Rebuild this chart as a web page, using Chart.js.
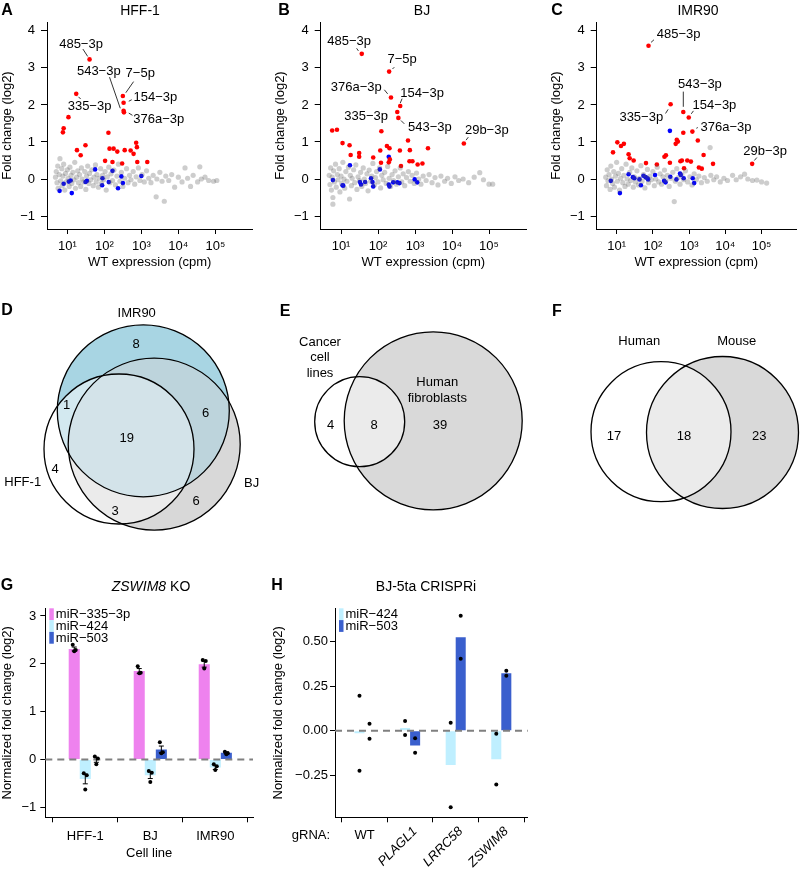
<!DOCTYPE html>
<html>
<head>
<meta charset="utf-8">
<title>miRNA fold change figure</title>
<script src="https://cdn.jsdelivr.net/npm/chart.js@4.4.1/dist/chart.umd.min.js"></script>
<style>
  body { margin: 0; background: #fff; font-family: "Liberation Sans", Arial, Helvetica, sans-serif; color: #000; }
  #page { position: relative; width: 800px; height: 871px; overflow: hidden; }
  canvas { position: absolute; }
  .t { position: absolute; transform: translate(-50%, -50%); white-space: nowrap; line-height: 1; font-size: 14px; }
  .let { font-weight: bold; font-size: 16px; }
</style>
</head>
<body>
<div id="page">
  <canvas id="cA" width="265" height="280" style="left:0;top:0"></canvas>
  <canvas id="cB" width="265" height="280" style="left:265px;top:0"></canvas>
  <canvas id="cC" width="270" height="280" style="left:530px;top:0"></canvas>
  <canvas id="cD" width="265" height="260" style="left:0;top:290px"></canvas>
  <canvas id="cE" width="265" height="260" style="left:265px;top:290px"></canvas>
  <canvas id="cF" width="270" height="260" style="left:530px;top:290px"></canvas>
  <canvas id="cG" width="265" height="296" style="left:0;top:575px"></canvas>
  <canvas id="cH" width="270" height="296" style="left:265px;top:575px"></canvas>

  <div class="t let" style="left:7px;top:10px">A</div>
  <div class="t let" style="left:284px;top:10px">B</div>
  <div class="t let" style="left:557px;top:10px">C</div>
  <div class="t let" style="left:7px;top:310px">D</div>
  <div class="t let" style="left:285px;top:311px">E</div>
  <div class="t let" style="left:557px;top:311px">F</div>
  <div class="t let" style="left:7px;top:585px">G</div>
  <div class="t let" style="left:277px;top:585px">H</div>

  <div class="t" style="left:140px;top:10px">HFF-1</div>
  <div class="t" style="left:422px;top:10px">BJ</div>
  <div class="t" style="left:698px;top:10px">IMR90</div>
  <div class="t" style="left:151px;top:586px"><i>ZSWIM8</i> KO</div>
  <div class="t" style="left:426px;top:586px">BJ-5ta CRISPRi</div>
</div>

<script>
/* ---------- data ---------- */

// x values are log10(cpm), y values are log2 fold change
const cpmTicks = [1, 2, 3, 4, 5];
const foldTicks = [-1, 0, 1, 2, 3, 4];

const hffGray = [
  [0.68,0.05],[0.70,0.20],[0.72,-0.10],[0.74,0.35],[0.75,-0.25],[0.78,0.12],[0.80,0.55],[0.82,-0.05],
  [0.85,0.28],[0.86,-0.18],[0.88,0.08],[0.90,0.40],[0.93,-0.30],[0.95,0.15],[0.97,-0.08],[1.00,0.25],
  [1.02,0.02],[1.05,-0.20],[1.07,0.32],[1.10,0.10],[1.12,-0.12],[1.15,0.18],[1.18,-0.02],[1.20,0.45],
  [1.22,-0.25],[1.25,0.05],[1.28,0.22],[1.30,-0.10],[1.33,0.12],[1.36,-0.20],[1.38,0.30],[1.40,0.00],
  [1.44,-0.08],[1.47,0.20],[1.50,-0.28],[1.52,0.08],[1.55,0.35],[1.58,-0.12],[1.60,0.15],[1.63,-0.02],
  [1.66,0.25],[1.70,-0.18],[1.72,0.05],[1.76,0.38],[1.78,-0.08],[1.80,0.12],[1.84,-0.22],[1.86,0.02],
  [1.90,0.28],[1.92,-0.12],[1.95,0.10],[1.98,-0.02],[2.02,0.20],[2.05,-0.30],[2.08,0.06],[2.12,0.32],
  [2.15,-0.10],[2.18,0.14],[2.22,-0.04],[2.26,0.24],[2.30,-0.16],[2.34,0.08],[2.38,0.40],[2.42,-0.06],
  [2.46,0.18],[2.50,-0.20],[2.55,0.02],[2.60,0.28],[2.64,-0.10],[2.68,0.10],[2.72,-0.02],[2.78,0.20],
  [2.82,-0.14],[2.86,0.06],[2.92,0.30],[2.96,-0.04],[3.02,0.12],[3.08,-0.08],[3.14,0.22],[3.20,0.02],
  [3.26,-0.10],[3.32,0.10],[3.40,-0.48],[3.42,0.00],[3.50,0.18],[3.56,-0.06],[3.62,-0.60],[3.66,0.08],
  [3.74,-0.04],[3.82,0.12],[3.90,-0.22],[4.00,0.05],[4.10,-0.08],[4.18,0.30],[4.25,0.02],[4.33,-0.20],
  [4.40,0.10],[4.52,-0.08],[4.58,0.33],[4.62,0.00],[4.72,0.05],[4.82,-0.04],[4.95,-0.06],[5.04,-0.04]
];
const hffUp = [
  [1.60,3.23],[2.50,2.24],[2.52,2.06],[2.52,1.84],[2.53,1.80],[1.24,2.30],[1.03,1.67],[0.90,1.37],
  [0.88,1.26],[2.11,1.25],[1.26,0.78],[1.36,0.64],[1.49,0.91],[2.14,0.82],[2.25,0.82],[2.35,0.74],
  [2.55,0.78],[2.71,0.77],[2.79,0.68],[2.86,0.98],[2.88,0.86],[2.02,0.49],[2.22,0.46],[2.48,0.42],
  [2.89,0.46],[3.16,0.46]
];
const hffDown = [
  [0.79,-0.32],[0.90,-0.13],[1.04,-0.07],[1.09,-0.04],[1.12,-0.38],[1.49,-0.08],[1.53,-0.05],[1.75,0.26],
  [1.95,0.02],[1.94,-0.17],[2.12,-0.08],[2.22,0.22],[2.37,-0.25],[2.46,0.07],[2.50,-0.11],[3.00,0.08]
];
// [label, text x, text y, leader x1, y1, x2, y2]
const hffNotes = [
  ['485\u22123p', 1.37, 3.64, 1.42, 3.51, 1.55, 3.31],
  ['543\u22123p', 1.85, 2.90, 2.14, 2.75, 2.43, 1.91],
  ['7\u22125p', 2.97, 2.84, 2.79, 2.63, 2.58, 2.33],
  ['154\u22123p', 3.38, 2.21, 2.74, 2.14, 2.66, 2.10],
  ['335\u22123p', 1.60, 1.97, 1.30, 2.22, 1.36, 2.16],
  ['376a\u22123p', 3.47, 1.62, 2.66, 1.78, 2.76, 1.72]
];

const bjGray = [
  [0.68,0.10],[0.70,-0.15],[0.72,0.30],[0.74,-0.30],[0.76,0.05],[0.78,-0.50],[0.78,-0.68],[0.80,0.22],
  [0.82,-0.08],[0.85,0.40],[0.87,-0.22],[0.90,0.12],[0.92,-0.02],[0.95,0.28],[0.97,-0.35],[1.00,0.08],
  [1.02,-0.12],[1.05,0.45],[1.08,0.00],[1.10,-0.25],[1.13,0.20],[1.16,-0.06],[1.20,0.32],[1.23,-0.54],
  [1.25,0.10],[1.28,-0.18],[1.30,0.02],[1.34,0.25],[1.37,-0.10],[1.40,0.38],[1.43,-0.28],[1.46,0.06],
  [1.50,-0.04],[1.53,0.18],[1.56,-0.20],[1.60,0.30],[1.63,0.00],[1.66,-0.12],[1.70,0.14],[1.73,-0.32],
  [1.76,0.24],[1.80,-0.06],[1.83,0.08],[1.86,0.42],[1.90,-0.16],[1.93,0.04],[1.96,0.20],[2.00,-0.08],
  [2.04,0.30],[2.07,-0.24],[2.10,0.10],[2.14,-0.02],[2.18,0.18],[2.22,-0.12],[2.26,0.34],[2.30,0.02],
  [2.34,-0.20],[2.38,0.12],[2.42,-0.04],[2.46,0.22],[2.50,-0.14],[2.55,0.06],[2.60,0.30],[2.64,-0.08],
  [2.68,0.14],[2.72,-0.18],[2.77,0.04],[2.82,0.20],[2.87,-0.06],[2.92,0.10],[2.98,-0.12],[3.04,0.16],
  [3.10,0.00],[3.16,-0.14],[3.22,0.08],[3.30,-0.04],[3.38,0.12],[3.46,-0.10],[3.54,0.04],[3.62,-0.16],
  [3.70,0.08],[3.80,-0.06],[3.88,0.02],[3.98,-0.12],[4.08,0.06],[4.18,-0.04],[4.30,0.00],[4.45,-0.10],
  [4.60,0.05],[4.75,0.17],[4.85,-0.02],[5.00,-0.14],[5.10,-0.14]
];
const bjUp = [
  [1.56,3.38],[2.30,2.90],[2.35,2.20],[2.60,1.97],[2.52,1.81],[2.55,1.65],[0.76,1.31],[0.89,1.33],
  [1.04,0.97],[1.23,0.91],[1.26,0.65],[1.49,0.70],[1.49,0.60],[1.87,0.58],[2.09,1.29],[2.06,0.77],
  [2.08,0.44],[2.24,0.89],[2.31,0.83],[2.29,0.45],[2.32,0.53],[2.59,0.77],[2.62,0.35],[2.81,1.04],
  [2.86,0.78],[2.85,0.48],[2.93,0.48],[3.07,0.39],[3.20,0.42],[3.35,0.83],[4.32,0.96]
];
const bjDown = [
  [0.78,-0.03],[1.04,-0.17],[1.06,-0.18],[1.24,0.37],[1.51,-0.08],[1.54,-0.15],[1.65,-0.08],[1.81,0.02],
  [1.85,-0.08],[1.87,-0.20],[2.05,0.26],[2.29,0.60],[2.29,-0.15],[2.31,-0.20],[2.41,-0.09],[2.52,-0.09],
  [2.58,-0.11],[2.99,-0.01],[3.06,-0.09]
];
const bjNotes = [
  ['485\u22123p', 1.22, 3.71, 1.42, 3.53, 1.47, 3.46],
  ['7\u22125p', 2.65, 3.22, 2.44, 3.02, 2.39, 2.97],
  ['376a\u22123p', 1.41, 2.48, 2.17, 2.41, 2.26, 2.30],
  ['154\u22123p', 3.19, 2.32, 2.65, 2.17, 2.60, 2.05],
  ['335\u22123p', 1.68, 1.68, 2.21, 1.70, 2.25, 1.73],
  ['543\u22123p', 3.40, 1.39, 2.62, 1.58, 2.71, 1.49],
  ['29b\u22123p', 4.94, 1.32, 4.44, 1.13, 4.38, 1.05]
];

const imrGray = [
  [0.70,0.05],[0.72,-0.18],[0.74,0.25],[0.76,-0.05],[0.79,0.12],[0.82,-0.28],[0.84,0.35],[0.86,0.00],
  [0.89,-0.12],[0.92,0.20],[0.94,-0.22],[0.97,0.08],[1.00,0.45],[1.02,-0.06],[1.05,0.15],[1.08,-0.30],
  [1.11,0.02],[1.14,0.28],[1.17,-0.10],[1.20,0.10],[1.23,-0.20],[1.26,0.40],[1.29,0.00],[1.32,-0.14],
  [1.36,0.18],[1.39,-0.04],[1.42,0.30],[1.46,-0.22],[1.49,0.06],[1.52,-0.08],[1.56,0.22],[1.60,-0.16],
  [1.63,0.02],[1.67,0.36],[1.70,-0.06],[1.74,0.12],[1.78,-0.24],[1.81,0.04],[1.85,0.26],[1.88,-0.10],
  [1.92,0.08],[1.96,-0.02],[2.00,0.20],[2.04,-0.18],[2.08,0.00],[2.12,0.32],[2.16,-0.08],[2.20,0.14],
  [2.24,-0.14],[2.28,0.06],[2.32,0.24],[2.36,-0.04],[2.40,0.10],[2.45,-0.20],[2.50,0.02],[2.55,0.18],
  [2.59,-0.61],[2.62,-0.06],[2.66,0.28],[2.70,0.04],[2.75,-0.14],[2.80,0.12],[2.85,-0.02],[2.90,0.22],
  [2.96,-0.08],[3.02,0.06],[3.08,-0.16],[3.14,0.14],[3.20,-0.02],[3.27,0.08],[3.34,-0.10],[3.42,0.04],
  [3.50,-0.06],[3.58,0.85],[3.60,0.10],[3.68,-0.02],[3.76,0.06],[3.86,-0.08],[3.96,0.02],[4.06,-0.04],
  [4.20,0.10],[4.30,-0.02],[4.42,0.06],[4.53,0.13],[4.62,0.00],[4.75,-0.04],[4.87,-0.03],[5.00,-0.08],
  [5.14,-0.11]
];
const imrUp = [
  [1.88,3.60],[2.49,2.02],[2.84,1.81],[2.99,1.66],[2.84,1.25],[3.09,1.28],[0.90,0.72],[1.02,0.99],
  [1.12,0.89],[1.20,0.95],[1.33,0.67],[1.36,0.56],[1.47,0.50],[1.81,0.43],[2.11,0.39],[2.32,0.60],
  [2.36,0.64],[2.47,0.44],[2.66,1.06],[2.69,1.01],[2.63,0.95],[2.76,0.48],[2.80,0.50],[2.86,0.29],
  [2.95,0.50],[3.05,0.47],[3.24,1.04],[3.27,0.31],[3.35,0.28],[3.40,0.65],[3.66,0.41],[4.74,0.41]
];
const imrDown = [
  [2.47,1.30],[0.84,-0.05],[1.09,-0.38],[1.33,0.13],[1.45,0.05],[1.49,0.02],[1.63,-0.01],[1.67,-0.17],
  [1.74,0.09],[1.80,0.05],[1.85,0.02],[1.87,-0.01],[2.06,0.11],[2.31,-0.05],[2.35,-0.09],[2.48,0.06],
  [2.65,-0.01],[2.75,0.15],[2.77,0.11],[2.85,0.02],[3.10,0.02],[3.14,-0.11]
];
const imrNotes = [
  ['485\u22123p', 2.71, 3.91, 2.03, 3.76, 1.95, 3.69],
  ['543\u22123p', 3.30, 2.56, 2.84, 2.36, 2.84, 1.95],
  ['154\u22123p', 3.70, 1.99, 3.12, 1.84, 3.06, 1.76],
  ['335\u22123p', 1.68, 1.67, 2.35, 1.77, 2.42, 1.88],
  ['376a\u22123p', 4.02, 1.39, 3.20, 1.37, 3.24, 1.39],
  ['29b\u22123p', 5.10, 0.74, 4.87, 0.58, 4.80, 0.50]
];

// Venn counts
const dSets = ['IMR90', 'BJ', 'HFF-1'];
const dCounts = [8, 1, 6, 19, 4, 3, 6];
const eSets = ['Cancer\ncell\nlines', 'Human\nfibroblasts'];
const eCounts = [4, 8, 39];
const fSets = ['Human', 'Mouse'];
const fCounts = [17, 18, 23];

// G: ZSWIM8 KO
const gCells = ['HFF-1', 'BJ', 'IMR90'];
const gTicks = [-1, 0, 1, 2, 3];
const g335 = [2.31, 1.85, 1.99];
const g424 = [-0.41, -0.33, -0.17];
const g503 = [-0.01, 0.21, 0.14];
const g335Err = [0.04, 0.05, 0.06];
const g424Err = [0.10, 0.07, 0.04];
const g503Err = [0.05, 0.07, 0.02];
const g335Reps = [[2.40, 2.29, 2.26], [1.95, 1.81, 1.80], [2.08, 2.06, 1.90]];
const g424Reps = [[-0.29, -0.33, -0.63], [-0.24, -0.28, -0.47], [-0.10, -0.14, -0.22]];
const g503Reps = [[0.06, 0.02, -0.10], [0.36, 0.15, 0.13], [0.16, 0.13, 0.11]];

// H: BJ-5ta CRISPRi
const hGuides = ['WT', 'PLAGL1', 'LRRC58', 'ZSWIM8'];
const hTicks = [-0.25, 0, 0.25, 0.5];
const h424 = [-0.014, 0.015, -0.193, -0.160];
const h503 = [-0.003, -0.083, 0.525, 0.323];
const h424Reps = [[0.197, -0.225], [0.054, -0.024], [0.045, -0.431], [-0.017, -0.303]];
const h503Reps = [[0.039, -0.045], [-0.043, -0.124], [0.646, 0.404], [0.337, 0.309]];


/* ---------- setup ---------- */

const FONT = '"Liberation Sans", Arial, Helvetica, sans-serif';
Chart.defaults.font.family = FONT;
Chart.defaults.font.size = 13;
Chart.defaults.color = '#000';
Chart.defaults.animation = false;
Chart.defaults.responsive = false;
Chart.defaults.plugins.legend.display = false;
Chart.defaults.plugins.tooltip.enabled = false;

const SUP = { 1: '\u00b9', 2: '\u00b2', 3: '\u00b3', 4: '\u2074', 5: '\u2075' };
const minus = v => (v < 0 ? '\u2212' + String(-v) : String(v));
const minus2 = v => (v < 0 ? '\u2212' + (-v).toFixed(2) : v.toFixed(2));

function axisLines(tick) {
  return {
    grid: { drawOnChartArea: false, drawTicks: true, tickLength: tick, color: '#000', lineWidth: 1 },
    border: { display: true, color: '#000', width: 1 }
  };
}


/* labels with leader lines on the scatter panels */
function notesPlugin(items) {
  return {
    id: 'notes',
    afterDatasetsDraw(chart) {
      const { ctx, scales: { x, y } } = chart;
      ctx.save();
      ctx.font = '13px ' + FONT;
      ctx.fillStyle = '#000';
      ctx.strokeStyle = '#000';
      ctx.lineWidth = 0.8;
      ctx.textAlign = 'center';
      ctx.textBaseline = 'middle';
      items.forEach(([t, tx, ty, x1, y1, x2, y2]) => {
        ctx.fillText(t, x.getPixelForValue(tx), y.getPixelForValue(ty));
        ctx.beginPath();
        ctx.moveTo(x.getPixelForValue(x1), y.getPixelForValue(y1));
        ctx.lineTo(x.getPixelForValue(x2), y.getPixelForValue(y2));
        ctx.stroke();
      });
      ctx.restore();
    }
  };
}


/* scatter panels A-C */
function scatterPanel(id, gray, up, down, notes, axisX, xMax) {
  const cv = document.getElementById(id);
  const padLeft = Math.max(0, axisX - 48);
  const areaW = (xMax - 0.45) * 37;

  new Chart(cv, {
    type: 'scatter',
    data: {
      datasets: [
        { data: gray, backgroundColor: 'rgba(90,90,90,0.3)', pointRadius: 2.6, borderWidth: 0 },
        { data: up, backgroundColor: '#ff0000', pointRadius: 2.3, borderWidth: 0 },
        { data: down, backgroundColor: '#0000ff', pointRadius: 2.3, borderWidth: 0 }
      ]
    },
    options: {
      layout: { padding: { left: padLeft, top: 22, right: Math.max(0, cv.width - axisX - areaW), bottom: 0 } },
      scales: {
        x: {
          type: 'linear', min: 0.45, max: xMax, ...axisLines(5),
          afterBuildTicks: s => { s.ticks = cpmTicks.map(v => ({ value: v })); },
          afterFit: s => { s.height = cv.height - 229; },
          ticks: { padding: 5, maxRotation: 0, callback: v => '10' + SUP[v] },
          title: { display: true, text: 'WT expression (cpm)', padding: { top: 0, bottom: 10 } }
        },
        y: {
          type: 'linear', min: -1.35, max: 4.24, ...axisLines(6),
          afterBuildTicks: s => { s.ticks = foldTicks.map(v => ({ value: v })); },
          afterFit: s => { s.width = axisX - padLeft; },
          ticks: { padding: 6, callback: minus },
          title: { display: true, text: 'Fold change (log2)', padding: { top: 0, bottom: 0 } }
        }
      }
    },
    plugins: [notesPlugin(notes)]
  });
}


/* venn panels D-F */
function vennPlugin(v) {
  return {
    id: 'venn',
    afterDraw(chart) {
      const { ctx, scales: { x, y } } = chart;
      const path = c => {
        ctx.beginPath();
        ctx.arc(x.getPixelForValue(c.x), y.getPixelForValue(c.y),
          x.getPixelForValue(c.r) - x.getPixelForValue(0), 0, 2 * Math.PI);
      };

      v.fills.forEach(([sets, color]) => {
        ctx.save();
        sets.slice(1).forEach(i => { path(v.circles[i]); ctx.clip(); });
        path(v.circles[sets[0]]);
        ctx.fillStyle = color;
        ctx.fill();
        ctx.restore();
      });

      ctx.save();
      ctx.strokeStyle = '#000';
      ctx.lineWidth = 1.3;
      v.circles.forEach(c => { path(c); ctx.stroke(); });

      ctx.fillStyle = '#000';
      ctx.font = '13px ' + FONT;
      ctx.textAlign = 'center';
      ctx.textBaseline = 'middle';
      v.counts.forEach((n, i) => {
        ctx.fillText(String(n), x.getPixelForValue(v.countAt[i][0]), y.getPixelForValue(v.countAt[i][1]));
      });
      v.names.forEach((name, i) => {
        const lines = name.split('\n');
        lines.forEach((ln, k) => {
          ctx.fillText(ln, x.getPixelForValue(v.nameAt[i][0]),
            y.getPixelForValue(v.nameAt[i][1]) + (k - (lines.length - 1) / 2) * 15.5);
        });
      });
      ctx.restore();
    }
  };
}

function vennPanel(id, v) {
  const cv = document.getElementById(id);
  new Chart(cv, {
    type: 'scatter',
    data: { datasets: [{ data: [] }] },
    options: {
      layout: { padding: 0 },
      scales: {
        x: { type: 'linear', display: false, min: 0, max: cv.width },
        y: { type: 'linear', display: false, min: 0, max: cv.height, reverse: true }
      }
    },
    plugins: [vennPlugin(v)]
  });
}


/* bar panels G-H */
function barExtras(cfg) {
  return {
    id: 'barExtras',
    afterDatasetsDraw(chart) {
      const { ctx, chartArea: a, scales: { x, y } } = chart;
      ctx.save();

      const y0 = y.getPixelForValue(0);
      ctx.strokeStyle = '#808080';
      ctx.lineWidth = 2;
      ctx.setLineDash([7, 5]);
      ctx.beginPath();
      ctx.moveTo(a.left, y0);
      ctx.lineTo(a.right, y0);
      ctx.stroke();
      ctx.setLineDash([]);

      ctx.strokeStyle = '#000';
      ctx.fillStyle = '#000';
      ctx.lineWidth = 1;
      cfg.series.forEach((s, d) => {
        chart.getDatasetMeta(d).data.forEach((bar, i) => {
          if (s.err) {
            const lo = y.getPixelForValue(s.values[i] - s.err[i]);
            const hi = y.getPixelForValue(s.values[i] + s.err[i]);
            ctx.beginPath();
            ctx.moveTo(bar.x, lo); ctx.lineTo(bar.x, hi);
            ctx.moveTo(bar.x - 2.5, lo); ctx.lineTo(bar.x + 2.5, lo);
            ctx.moveTo(bar.x - 2.5, hi); ctx.lineTo(bar.x + 2.5, hi);
            ctx.stroke();
          }
          s.reps[i].forEach((v, k) => {
            ctx.beginPath();
            ctx.arc(bar.x + cfg.jitter[k], y.getPixelForValue(v), 2, 0, 2 * Math.PI);
            ctx.fill();
          });
        });
      });

      // legend
      ctx.font = '13px ' + FONT;
      ctx.textAlign = 'left';
      ctx.textBaseline = 'middle';
      cfg.series.forEach((s, d) => {
        const top = a.top + d * 11.8;
        ctx.fillStyle = s.color;
        ctx.fillRect(a.left + 4, top, 4.5, 11.8);
        ctx.fillStyle = '#000';
        ctx.fillText(s.label, a.left + 10.5, top + 6.2);
      });

      if (cfg.guideLabels) cfg.guideLabels(ctx, x, a);
      ctx.restore();
    }
  };
}

function barPanel(id, cfg) {
  const cv = document.getElementById(id);
  new Chart(cv, {
    type: 'bar',
    data: {
      datasets: cfg.series.map(s => ({
        label: s.label,
        data: s.values.map((v, i) => ({ x: i + 1, y: v })),
        backgroundColor: s.color,
        borderWidth: 0,
        categoryPercentage: cfg.groupShare,
        barPercentage: 1
      }))
    },
    options: {
      layout: { padding: { left: cfg.padLeft, right: cfg.padRight, top: 33.3, bottom: 0 } },
      scales: {
        x: {
          type: 'linear', offset: false, min: cfg.xMin, max: cfg.xMax, ...axisLines(5),
          afterBuildTicks: s => { s.ticks = cfg.names.map((n, i) => ({ value: i + 1 })); },
          afterFit: s => { s.height = cv.height - 242.3; },
          ticks: { padding: 6, maxRotation: 0, autoSkip: false, callback: cfg.xLabel },
          title: cfg.xTitle
        },
        y: {
          type: 'linear', min: cfg.yMin, max: cfg.yMax, ...axisLines(5),
          afterBuildTicks: s => { s.ticks = cfg.yTicks.map(v => ({ value: v })); },
          afterFit: s => { s.width = cfg.axisX - cfg.padLeft; },
          ticks: { padding: cfg.yPad, callback: cfg.yFmt },
          title: { display: true, text: 'Normalized fold change (log2)', padding: { top: 0, bottom: 0 } }
        }
      }
    },
    plugins: [barExtras(cfg)]
  });
}

function drawGuides(ctx, x, a) {
  const yTxt = a.bottom + 18;
  ctx.fillStyle = '#000';
  ctx.textBaseline = 'middle';
  ctx.font = '13px ' + FONT;
  ctx.textAlign = 'center';
  ctx.fillText('gRNA:', a.left - 24, yTxt);
  hGuides.forEach((g, i) => {
    const px = x.getPixelForValue(i + 1);
    if (i === 0) {
      ctx.fillText(g, px, yTxt);
      return;
    }
    ctx.save();
    ctx.translate(px + 5, a.bottom + 12);
    ctx.rotate(-Math.PI / 4);
    ctx.font = 'italic 13px ' + FONT;
    ctx.textAlign = 'right';
    ctx.fillText(g, 0, 0);
    ctx.restore();
  });
}


/* ---------- draw ---------- */

scatterPanel('cA', hffGray, hffUp, hffDown, hffNotes, 47, 6.0);
scatterPanel('cB', bjGray, bjUp, bjDown, bjNotes, 55.7, 6.0);
scatterPanel('cC', imrGray, imrUp, imrDown, imrNotes, 66.7, 5.95);

vennPanel('cD', {
  circles: [{ x: 143.3, y: 120.8, r: 86 }, { x: 154.2, y: 154.2, r: 86 }, { x: 119, y: 159, r: 75 }],
  fills: [
    [[1], '#d8d8d8'], [[0], '#a8d5e3'], [[2, 1], '#ebebeb'], [[2, 0], '#d3e9f0'],
    [[0, 1], '#bdd4dc'], [[0, 1, 2], '#d3e3e9']
  ],
  counts: dCounts,
  countAt: [[136, 54.3], [66.7, 115], [205.7, 123.3], [126.7, 148.3], [55, 179], [115, 221.7], [196, 211.7]],
  names: dSets,
  nameAt: [[136.7, 23.3], [251.7, 193.3], [22.7, 192.7]]
});

vennPanel('cE', {
  circles: [{ x: 94.7, y: 131.7, r: 45 }, { x: 168.2, y: 130.8, r: 89 }],
  fills: [[[1], '#d9d9d9'], [[0, 1], '#ebebeb']],
  counts: eCounts,
  countAt: [[65.7, 135.7], [109, 135.7], [175, 135.7]],
  names: eSets,
  nameAt: [[55, 67.5], [172.3, 100.5]]
});

vennPanel('cF', {
  circles: [{ x: 131, y: 141.7, r: 70 }, { x: 192.5, y: 142.5, r: 76 }],
  fills: [[[1], '#d9d9d9'], [[0, 1], '#ebebeb']],
  counts: fCounts,
  countAt: [[84, 146], [154, 146], [229.3, 146]],
  names: fSets,
  nameAt: [[109.3, 51], [206.7, 51]]
});

barPanel('cG', {
  names: gCells,
  series: [
    { label: 'miR\u2212335\u22123p', values: g335, err: g335Err, reps: g335Reps, color: '#ee82ee' },
    { label: 'miR\u2212424', values: g424, err: g424Err, reps: g424Reps, color: '#bfefff' },
    { label: 'miR\u2212503', values: g503, err: g503Err, reps: g503Reps, color: '#3a5fcd' }
  ],
  groupShare: 0.51,
  jitter: [-1.5, 1.5, 0],
  xMin: 0.385, xMax: 3.58,
  yMin: -1.21, yMax: 3.16, yTicks: gTicks, yFmt: minus, yPad: 4,
  axisX: 45.3, padLeft: 0, padRight: 12,
  xLabel: (v, i) => gCells[i],
  xTitle: { display: true, text: 'Cell line', padding: { top: 0, bottom: 10 } }
});

barPanel('cH', {
  names: hGuides,
  series: [
    { label: 'miR\u2212424', values: h424, reps: h424Reps, color: '#bfefff' },
    { label: 'miR\u2212503', values: h503, reps: h503Reps, color: '#3a5fcd' }
  ],
  groupShare: 0.44,
  jitter: [0, 0],
  xMin: 0.353, xMax: 4.579,
  yMin: -0.487, yMax: 0.688, yTicks: hTicks, yFmt: minus2, yPad: 2,
  axisX: 70, padLeft: 5.5, padRight: 7.3,
  xLabel: () => '',
  xTitle: { display: false },
  guideLabels: drawGuides
});
</script>
</body>
</html>
